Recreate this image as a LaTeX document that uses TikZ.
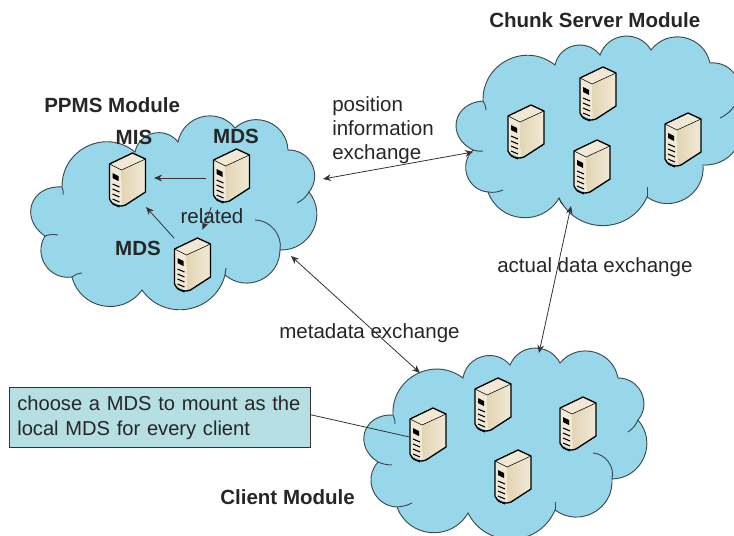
\documentclass[tikz,border=0pt]{standalone}
\usepackage{fontspec}
\setmainfont{Liberation Sans}
\usetikzlibrary{arrows.meta}
\definecolor{cloudblue}{HTML}{97D7E9}
\definecolor{cloudedge}{HTML}{3A4A50}
\definecolor{notefill}{HTML}{B6DFE3}
\definecolor{srvlight}{HTML}{F1E9D6}
\definecolor{srvmid}{HTML}{E2D5B3}
\tikzset{
  lbl/.style={font=\fontsize{15.4}{18}\selectfont,text=black!85,inner sep=0pt},
  boldlbl/.style={lbl,font=\fontsize{15.4}{18}\selectfont\bfseries},
  cloudpart/.style={fill=cloudblue,draw=cloudedge,line width=0.7pt},
  hook/.style={draw=cloudedge,line width=0.7pt},
  bump/.style={bend left=65,looseness=1.2},
  bigbump/.style={bend left=75,looseness=1.55},
  link/.style={draw=black!80,line width=0.6pt,>={Stealth[length=6pt,width=5pt]}},
  serverbox/.style={minimum width=27.75pt,minimum height=40.5pt,inner sep=0pt,outer sep=0pt},
  notebox/.style={lbl,font=\fontsize{15.1}{18.5}\selectfont,draw=black!80,fill=notefill,line width=0.7pt,align=left,
    minimum width=225.75pt,minimum height=45pt,text width=214pt},
  serverpic/.pic={
    \fill[srvlight] (-18,-16) -- (5,-27) -- (18,-21) -- (-6,-10) -- cycle;
    \fill[srvlight] (-18,-16) -- (-6,-10) -- (-5,26) -- (-18,20) -- cycle;
    \shade[left color=srvmid,right color=srvlight] (-6,-10) -- (18,-21) -- (18,12) -- (-5,26) -- cycle;
    \draw[black,line width=1pt,line join=round] (-18,-16) -- (5,-27) -- (18,-21) -- (18,12)
      -- (-2,25) to[bend left=20] (-12,25) to[bend left=25] (-18,19) -- cycle;
    \draw[black,line width=0.4pt] (-18,-16) -- (-6,-10) -- (18,-21);
    \fill[black] (-15,-7) -- (-9,-4) -- (-9,1) -- (-15,-2) -- cycle;
    \foreach \ypos in {5,10,15,20,25} {
      \draw[black,line width=0.8pt] (-15,\ypos-1) -- (-8,\ypos+2);
    }
  },
}
% one server: a named node and its drawing
\newcommand{\server}[2]{
  \node[serverbox] (#1) at (#2) {};
  \pic at (#2) {serverpic};
}
\begin{document}
\begin{tikzpicture}[x=0.75pt,y=-0.75pt]
  \clip (0,0) rectangle (734,535);

  % PPMS cloud
  \path[cloudpart] (62,187) to[bump] (135,152) to[bump] (178,142) to[bump] (235,128) to[bump] (288,150)
    to[bump] (309,192) to[bump] (280,250) to[bump] (225,275) to[bump] (142,290) to[bump] (72,277)
    to[bump] (45,236) to[bigbump] (62,187);
  \draw[hook] (62,187) to[bend left=15] (63,195);
  \draw[hook] (309,192) to[bend left=15] (297,203);
  \draw[hook] (280,250) to[bend right=50] (255,220);
  \draw[hook] (225,275) to[bend right=10] (226,268);
  \draw[hook] (72,277) to[bend left=15] (82,273);
  \draw[hook] (45,236) to[bend left=15] (58,235);

  % chunk server cloud
  \path[cloudpart] (483,101) to[bump] (555,65) to[bump] (600,55) to[bump] (651,50) to[bump] (710,63)
    to[bump] (735,105) to[bump] (703,165) to[bump] (647,197) to[bump] (559,198) to[bump] (488,192)
    to[bump] (473,150) to[bigbump] (483,101);
  \draw[hook] (483,101) to[bend left=15] (486,110);
  \draw[hook] (735,105) to[bend left=15] (720,118);
  \draw[hook] (647,197) -- (647,187);
  \draw[hook] (559,198) to[bend right=15] (563,205);
  \draw[hook] (488,192) to[bend right=15] (503,190);
  \draw[hook] (473,150) to[bend right=10] (483,151);

  % client cloud
  \path[cloudpart] (393,415) to[bump] (463,378) to[bump] (510,365) to[bump] (560,363) to[bump] (618,378)
    to[bump] (638,420) to[bump] (612,479) to[bump] (555,510) to[bump] (468,513) to[bump] (397,507)
    to[bump] (378,462) to[bigbump] (393,415);
  \draw[hook] (393,415) to[bend left=15] (395,424);
  \draw[hook] (638,420) to[bend left=15] (628,432);
  \draw[hook] (612,479) to[bend right=50] (593,453);
  \draw[hook] (555,510) -- (555,502);
  \draw[hook] (397,507) to[bend right=10] (412,503);
  \draw[hook] (378,462) to[bend right=10] (392,465);

  \server{mis}{127.5,180}
  \server{mdsa}{231.5,176}
  \server{mdsb}{192.5,265}

  \server{chunka}{526,132}
  \server{chunkb}{598,94}
  \server{chunkc}{592,167}
  \server{chunkd}{683,140}

  \server{clienta}{428,435}
  \server{clientb}{493,405}
  \server{clientc}{578,424}
  \server{clientd}{513,477}

  \node[boldlbl,anchor=west] (ppmslbl) at (44,105) {PPMS Module};
  \node[boldlbl,anchor=west] (chunklbl) at (489,20) {Chunk Server Module};
  \node[boldlbl,anchor=west] (clientlbl) at (220,497) {Client Module};
  \node[boldlbl] (mislbl) at (134,137) {MIS};
  \node[boldlbl] (mdsalbl) at (236,136) {MDS};
  \node[boldlbl] (mdsblbl) at (138,248) {MDS};
  \node[lbl] (rellbl) at (212,216) {related};
  \node[lbl,anchor=west,align=left] (poslbl) at (332,130) {position\\information\\exchange};
  \node[lbl,anchor=west] (datalbl) at (497,267) {actual data exchange};
  \node[lbl,anchor=west] (metalbl) at (279,333) {metadata exchange};
  \node[notebox,anchor=north west] (note) at (9,387) {choose a MDS to mount as the\\local MDS for every client};

  \coordinate (ppmsright) at (323,179);
  \coordinate (chunkleft) at (473,152);
  \coordinate (ppmslow) at (291,256);
  \coordinate (clienttop) at (420,373);
  \coordinate (chunklow) at (571,206);
  \coordinate (clientup) at (539,353);

  \draw[link,->,shorten >=6pt,shorten <=5pt] ([yshift=-1.5pt]mdsa.west) -- ([yshift=1.5pt]mis.east);
  \draw[link,->] (mdsb.north west) -- (mis.south east);
  \draw[link,->,shorten >=6.75pt,shorten <=3.5pt] (mdsa.south west) -- ([xshift=5pt]mdsb.north);
  \draw[link,<->] (ppmsright) -- (chunkleft);
  \draw[link,<->] (ppmslow) -- (clienttop);
  \draw[link,<->] (chunklow) -- (clientup);
  \draw[link] ([yshift=2pt]note.east) -- ([yshift=-1.5pt]clienta.west);
\end{tikzpicture}
\end{document}
